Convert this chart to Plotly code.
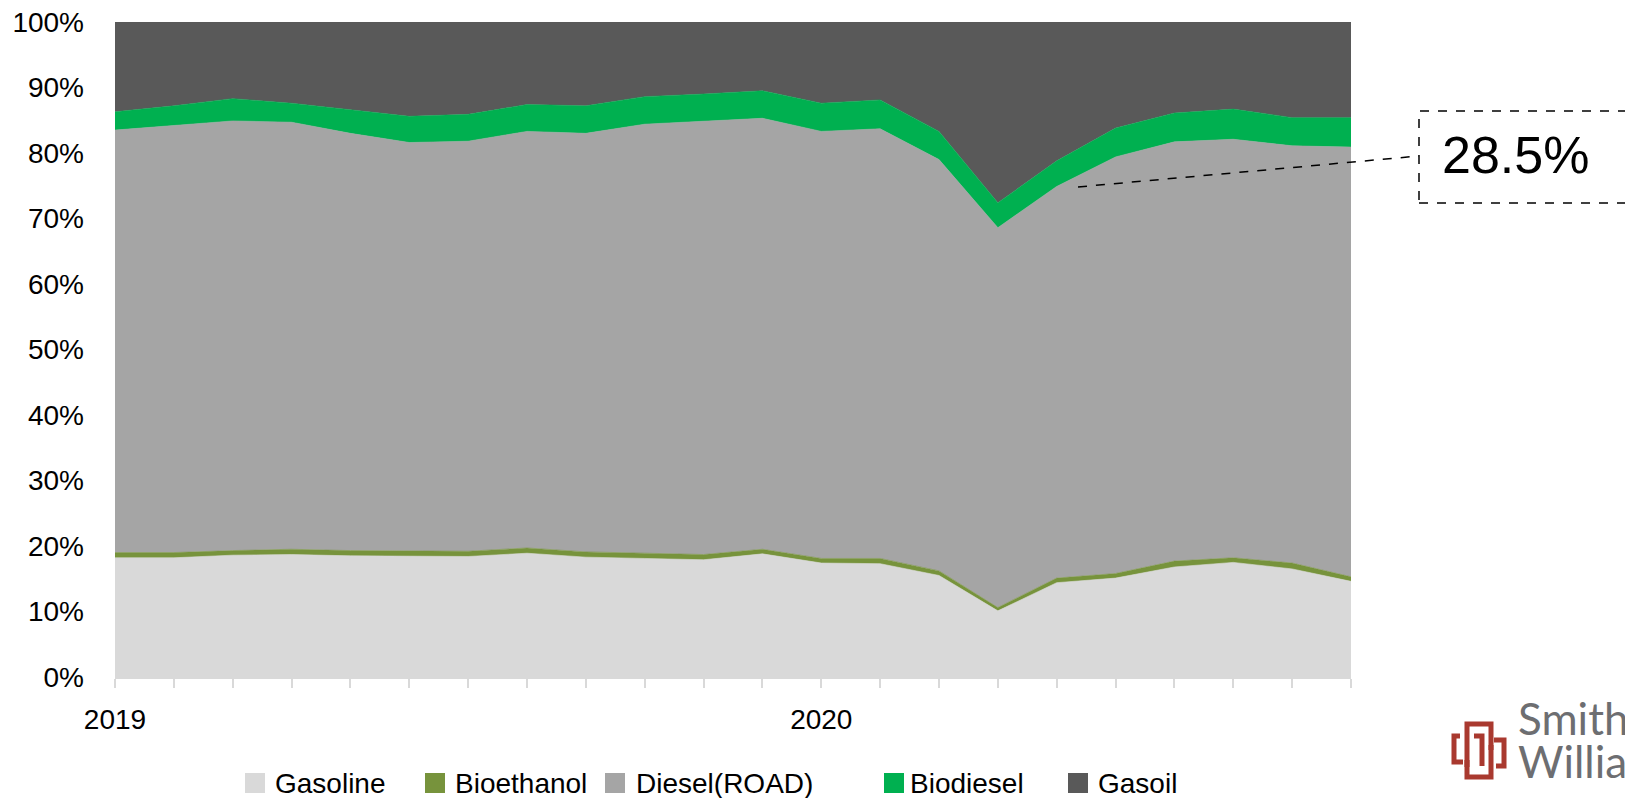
import plotly.graph_objects as go

# ---- data (share of total, %) ----
months = list(range(22))  # Jan 2019 .. Oct 2020
tick_labels = ["2019"] + [""] * 11 + ["2020"] + [""] * 9
series_names = ["Gasoline", "Bioethanol", "Diesel(ROAD)", "Biodiesel", "Gasoil"]
gasoline = [18.2, 18.2, 18.6, 18.7, 18.5, 18.4, 18.4, 18.9, 18.3, 18.1, 17.9,
            18.8, 17.4, 17.3, 15.5, 10.1, 14.4, 15.1, 16.8, 17.5, 16.5, 14.6]
bioethanol = [0.8, 0.8, 0.7, 0.8, 0.8, 0.8, 0.8, 0.8, 0.8, 0.8, 0.8,
              0.7, 0.7, 0.8, 0.7, 0.5, 0.7, 0.7, 0.9, 0.7, 0.9, 0.7]
diesel_road = [64.5, 65.2, 65.6, 65.2, 63.7, 62.4, 62.6, 63.6, 63.9, 65.5, 66.1,
               65.8, 65.2, 65.6, 62.8, 58.0, 59.8, 63.6, 64.0, 63.9, 63.7, 65.6]
biodiesel = [2.8, 3.0, 3.4, 2.9, 3.6, 4.0, 4.1, 4.1, 4.2, 4.2, 4.2,
             4.2, 4.3, 4.4, 4.3, 3.8, 3.9, 4.4, 4.4, 4.6, 4.3, 4.5]
gasoil = [13.7, 12.8, 11.7, 12.4, 13.4, 14.4, 14.1, 12.6, 12.8, 11.4, 11.0,
          10.5, 12.4, 11.9, 16.7, 27.6, 21.2, 16.2, 13.9, 13.3, 14.6, 14.6]
y_ticks = [0, 10, 20, 30, 40, 50, 60, 70, 80, 90, 100]
y_tick_labels = [f"{v}%" for v in y_ticks]
callout_text = "28.5%"

colors = ["#d9d9d9", "#77933c", "#a5a5a5", "#00b050", "#595959"]
values = [gasoline, bioethanol, diesel_road, biodiesel, gasoil]

W, H = 1633, 798          # page size
BODY = 8                  # default body margin of the html page
L, R, T, B = 115, 1351, 22, 677   # plot area in page pixels


def px(x):
    return (x - L) / (R - L)


def py(y):
    return (B - y) / (B - T)


fig = go.Figure()
for name, vals, col in zip(series_names, values, colors):
    fig.add_trace(go.Scatter(
        x=months, y=vals, name=name, mode="lines", stackgroup="one",
        line=dict(width=0.6, color=col), fillcolor=col, showlegend=False,
        hoverinfo="skip"))

shapes = []
annotations = []
FONT = "Liberation Sans, Arial, sans-serif"

# manual legend (page pixel positions)
leg_sw = [245, 425, 605, 884, 1068]
leg_tx = [273, 453, 634, 908, 1096]
ly = 783
for name, col, sx, tx in zip(series_names, colors, leg_sw, leg_tx):
    shapes.append(dict(type="rect", xref="paper", yref="paper",
                       x0=px(sx), x1=px(sx + 20), y0=py(ly + 10), y1=py(ly - 10),
                       fillcolor=col, line=dict(width=0)))
    annotations.append(dict(xref="paper", yref="paper", x=px(tx), y=py(ly),
                            xanchor="left", yanchor="middle", showarrow=False,
                            text=name, font=dict(family=FONT, size=28, color="#000000")))

# callout box and leader line
shapes.append(dict(type="rect", xref="paper", yref="paper",
                   x0=px(1419), x1=px(1720), y0=py(203), y1=py(111),
                   line=dict(color="#000000", width=1.5, dash="dash"),
                   fillcolor="rgba(0,0,0,0)", layer="above"))
shapes.append(dict(type="line", xref="paper", yref="paper",
                   x0=px(1078), y0=py(187), x1=px(1419), y1=py(156),
                   line=dict(color="#000000", width=1.5, dash="dash"), layer="above"))
annotations.append(dict(xref="paper", yref="paper", x=px(1515), y=py(155),
                        xanchor="center", yanchor="middle", showarrow=False,
                        text=callout_text,
                        font=dict(family=FONT, size=52, color="#000000")))

# logo
red = "#a9392f"
logo_paths = [
    "M1460,736 L1454,736 L1454,762 L1463,762",
    "M1467,767 L1467,724 L1491,724 L1491,750",
    "M1467,760 L1467,777 L1491,777 L1491,745",
    "M1494,740 L1504,740 L1504,766 L1496,766",
    "M1474,736 L1482,736 L1482,766",
]


def conv_path(p):
    out = []
    for tok in p.split(" "):
        cmd = tok[0]
        xs, ys = tok[1:].split(",")
        out.append(f"{cmd}{px(float(xs)):.5f},{py(float(ys)):.5f}")
    return " ".join(out)


for p in logo_paths:
    shapes.append(dict(type="path", xref="paper", yref="paper", path=conv_path(p),
                       line=dict(color=red, width=5)))
annotations.append(dict(xref="paper", yref="paper", x=px(1516), y=py(746),
                        xanchor="left", yanchor="bottom", showarrow=False, text="Smith",
                        font=dict(family="Lato, sans-serif", size=44, color="#6d6e71")))
annotations.append(dict(xref="paper", yref="paper", x=px(1516), y=py(789),
                        xanchor="left", yanchor="bottom", showarrow=False, text="Williams",
                        font=dict(family="Lato, sans-serif", size=44, color="#6d6e71")))

fig.update_layout(
    width=W - BODY, height=H - BODY,
    margin=dict(l=L - BODY, r=W - R, t=T - BODY, b=H - B, pad=0),
    paper_bgcolor="white", plot_bgcolor="white",
    shapes=shapes, annotations=annotations,
    showlegend=False,
    xaxis=dict(range=[0, 21], tickvals=months, ticktext=tick_labels,
               ticks="outside", ticklen=9, tickwidth=2, tickcolor="#d9d9d9",
               showline=True, linecolor="#d9d9d9", linewidth=2,
               showgrid=False, zeroline=False, automargin=False,
               ticklabelstandoff=7, ticklabeloverflow="allow",
               tickfont=dict(family=FONT, size=28, color="#000000")),
    yaxis=dict(range=[0, 100], tickvals=y_ticks, ticktext=y_tick_labels,
               showgrid=False, zeroline=False, showline=False, ticks="",
               automargin=False, ticklabelstandoff=30, ticklabeloverflow="allow",
               tickfont=dict(family=FONT, size=28, color="#000000")),
)

fig.write_html("out.html")
